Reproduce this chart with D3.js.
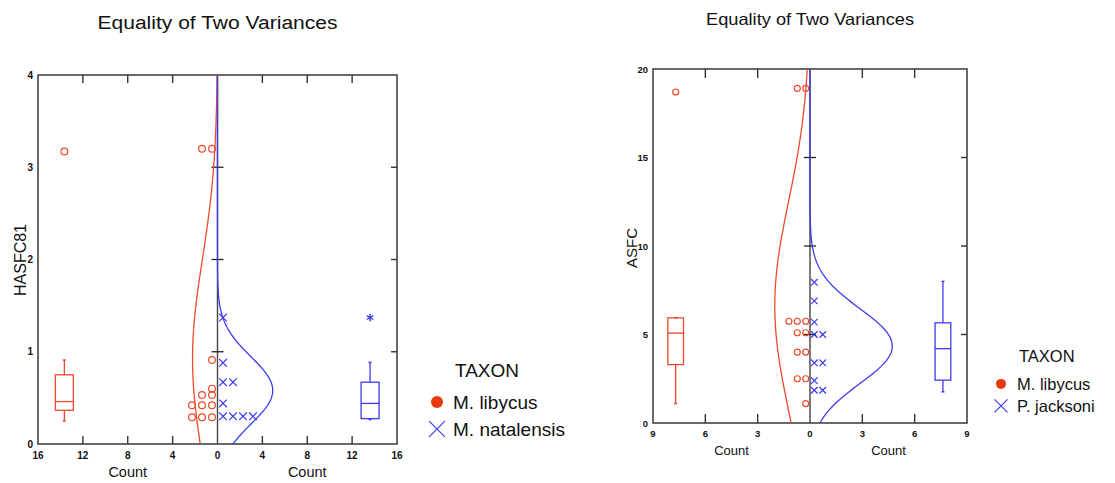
<!DOCTYPE html>
<html>
<head>
<meta charset="utf-8">
<script src="https://cdn.jsdelivr.net/npm/d3@7"></script>
<style>
  body { margin: 0; background: #fff; }
  text { font-family: "Liberation Sans", Arial, sans-serif; fill: #111; }
</style>
</head>
<body>
<div id="chart"></div>
<script>
// ---- data ----
// panel 1: HASFC81
const hasfcTicks = [0, 1, 2, 3, 4];
const hasfcCountTicks = [4, 8, 12, 16];
const hasfcLibycus = [3.20, 3.20, 0.91, 0.60, 0.53, 0.53, 0.42, 0.42, 0.42, 0.29, 0.29, 0.29];
const hasfcNatalensis = [1.37, 0.88, 0.67, 0.67, 0.44, 0.30, 0.30, 0.30, 0.30];
const hasfcLibycusBox = [0.25, 0.365, 0.46, 0.75, 0.91];   // low whisker, q1, median, q3, high whisker
const hasfcLibycusOut = [3.17];
const hasfcNatalensisBox = [0.265, 0.275, 0.44, 0.67, 0.885];
const hasfcNatalensisOut = [1.37];

// panel 2: ASFC
const asfcTicks = [0, 5, 10, 15, 20];
const asfcCountTicks = [3, 6, 9];
const asfcLibycus = [18.9, 18.9, 5.75, 5.75, 5.75, 5.1, 5.1, 4.0, 4.0, 2.5, 2.5, 1.1];
const asfcJacksoni = [7.95, 6.9, 5.7, 5.0, 5.0, 3.4, 3.4, 2.4, 1.85, 1.85];
const asfcLibycusBox = [1.1, 3.3, 5.08, 5.94, 5.94];
const asfcLibycusOut = [18.7];
const asfcJacksoniBox = [1.76, 2.42, 4.2, 5.66, 8.0];
const asfcJacksoniOut = [];

const RED = "#ec4a2a";
const BLUE = "#3b3bef";

const svg = d3.select("#chart").append("svg")
  .attr("width", 1115).attr("height", 483);

// normal density scaled to counts, from the points themselves
function normalCurve(values, bin, yMax) {
  const n = values.length, m = d3.mean(values), sd = d3.deviation(values);
  const k = n * bin / (sd * Math.sqrt(2 * Math.PI));
  return d3.range(0, 201).map(i => {
    const v = yMax * i / 200;
    return [v, k * Math.exp(-0.5 * ((v - m) / sd) ** 2)];
  });
}

function drawPanel(p) {
  const g = svg.append("g");
  const x = d3.scaleLinear().domain([-p.maxCount, p.maxCount]).range([p.left, p.right]);
  const y = d3.scaleLinear().domain([0, p.yMax]).range([p.bottom, p.top]);

  // title
  g.append("text").attr("x", x(0)).attr("y", p.titleY)
    .attr("text-anchor", "middle").style("font-size", p.titleSize + "px")
    .attr("textLength", p.titleLen).attr("lengthAdjust", "spacingAndGlyphs")
    .text("Equality of Two Variances");

  // center axis line
  g.append("line").attr("x1", x(0)).attr("x2", x(0)).attr("y1", y(0)).attr("y2", y(p.yMax))
    .attr("stroke", "#444").attr("stroke-width", 1.4);
  // cross ticks on center line
  p.yTicks.slice(1, -1).forEach(t => {
    g.append("line").attr("x1", x(0) - 6).attr("x2", x(0) + 6).attr("y1", y(t)).attr("y2", y(t))
      .attr("stroke", "#222").attr("stroke-width", 1.3);
  });

  // frame
  g.append("rect").attr("x", p.left).attr("y", p.top)
    .attr("width", p.right - p.left).attr("height", p.bottom - p.top)
    .attr("fill", "none").attr("stroke", "#444").attr("stroke-width", 1.6);

  // count ticks (inward, top and bottom) + labels
  const signed = [];
  p.countTicks.forEach(c => { signed.push(-c, c); });
  signed.forEach(c => {
    if (Math.abs(c) === p.maxCount) return;
    g.append("line").attr("x1", x(c)).attr("x2", x(c)).attr("y1", p.bottom).attr("y2", p.bottom - p.tickLen)
      .attr("stroke", "#333").attr("stroke-width", 1.4);
    g.append("line").attr("x1", x(c)).attr("x2", x(c)).attr("y1", p.top).attr("y2", p.top + p.tickLen)
      .attr("stroke", "#333").attr("stroke-width", 1.4);
  });
  signed.concat([0]).forEach(c => {
    g.append("text").attr("x", x(c)).attr("y", p.bottom + p.tickLabelDy)
      .attr("text-anchor", "middle").style("font-size", p.tickFont + "px").style("font-weight", "bold")
      .text(Math.abs(c));
  });
  // right edge ticks
  p.yTicks.slice(1, -1).forEach(t => {
    g.append("line").attr("x1", p.right).attr("x2", p.right - 6).attr("y1", y(t)).attr("y2", y(t))
      .attr("stroke", "#333").attr("stroke-width", 1.4);
  });
  // y labels
  p.yTicks.forEach(t => {
    g.append("text").attr("x", p.left - 5).attr("y", y(t) + 3.5)
      .attr("text-anchor", "end").style("font-size", p.tickFont + "px").style("font-weight", "bold")
      .text(t);
  });
  // Count labels
  [-p.maxCount / 2, p.maxCount / 2].forEach(c => {
    g.append("text").attr("x", x(c)).attr("y", p.countY)
      .attr("text-anchor", "middle").style("font-size", p.countSize + "px").text("Count");
  });
  // y title
  g.append("text").attr("transform", `translate(${p.yTitleX},${p.yTitleY}) rotate(-90)`)
    .attr("text-anchor", "middle").style("font-size", p.yTitleSize + "px").text(p.yTitle);

  // density curves
  const line = d3.line().x(d => x(d[1])).y(d => y(d[0]));
  g.append("path").datum(normalCurve(p.redVals, p.bin, p.yMax).map(d => [d[0], -d[1]]))
    .attr("d", line).attr("fill", "none").attr("stroke", RED).attr("stroke-width", 1.3);
  g.append("path").datum(normalCurve(p.blueVals, p.bin, p.yMax))
    .attr("d", line).attr("fill", "none").attr("stroke", BLUE).attr("stroke-width", 1.3);

  // dot plots
  const stack = vals => {
    const out = [];
    d3.group(vals, v => v).forEach((arr, v) => arr.forEach((_, i) => out.push({ v, i })));
    return out;
  };
  g.selectAll(null).data(stack(p.redVals)).join("circle")
    .attr("cx", d => x(0) - p.dotStart - d.i * p.dotStep).attr("cy", d => y(d.v))
    .attr("r", p.dotR).attr("fill", "none").attr("stroke", RED).attr("stroke-width", 1.2);
  const times = d3.symbol().type(d3.symbolTimes || d3.symbolCross).size(p.xSize);
  g.selectAll(null).data(stack(p.blueVals)).join("path")
    .attr("transform", d => `translate(${x(0) + p.dotStart + d.i * p.dotStep},${y(d.v)})`)
    .attr("d", times).attr("fill", "none").attr("stroke", BLUE).attr("stroke-width", 1.2);

  // box plots
  function box(stats, outs, center, color, outSymbol) {
    const xl = x(center - p.boxW / 2), xr = x(center + p.boxW / 2), xc = x(center);
    const [lo, q1, med, q3, hi] = stats;
    g.append("line").attr("x1", xc).attr("x2", xc).attr("y1", y(lo)).attr("y2", y(q1))
      .attr("stroke", color).attr("stroke-width", 1.3);
    g.append("line").attr("x1", xc).attr("x2", xc).attr("y1", y(q3)).attr("y2", y(hi))
      .attr("stroke", color).attr("stroke-width", 1.3);
    [lo, hi].forEach(v => g.append("line").attr("x1", xc - 1.5).attr("x2", xc + 1.5).attr("y1", y(v)).attr("y2", y(v))
      .attr("stroke", color).attr("stroke-width", 1.5));
    g.append("rect").attr("x", Math.min(xl, xr)).attr("y", y(q3))
      .attr("width", Math.abs(xr - xl)).attr("height", y(q1) - y(q3))
      .attr("fill", "none").attr("stroke", color).attr("stroke-width", 1.3);
    g.append("line").attr("x1", xl).attr("x2", xr).attr("y1", y(med)).attr("y2", y(med))
      .attr("stroke", color).attr("stroke-width", 1.3);
    outs.forEach(v => {
      if (outSymbol === "circle") {
        g.append("circle").attr("cx", xc).attr("cy", y(v)).attr("r", p.dotR)
          .attr("fill", "none").attr("stroke", color).attr("stroke-width", 1.2);
      } else {
        g.append("path").attr("transform", `translate(${xc},${y(v)})`)
          .attr("d", d3.symbol().type(d3.symbolAsterisk || d3.symbolCross).size(p.xSize)())
          .attr("fill", "none").attr("stroke", color).attr("stroke-width", 1.4);
      }
    });
  }
  box(p.redBox, p.redOut, -p.redBoxC, RED, "circle");
  box(p.blueBox, p.blueOut, p.blueBoxC, BLUE, "star");

  // legend
  const lg = svg.append("g");
  const [y0, y1, y2] = p.legRows;
  lg.append("text").attr("x", p.legX + 18).attr("y", y0).style("font-size", p.legSize + "px").text("TAXON");
  lg.append("circle").attr("cx", p.legX).attr("cy", y1 - p.legSize * 0.37)
    .attr("r", p.legR).attr("fill", "#e8380d");
  lg.append("text").attr("x", p.legX + 16).attr("y", y1)
    .style("font-size", p.legSize + "px").text("M. libycus");
  lg.append("path").attr("transform", `translate(${p.legX},${y2 - p.legSize * 0.37})`)
    .attr("d", d3.symbol().type(d3.symbolTimes || d3.symbolCross).size(p.legR * p.legR * 4.5)())
    .attr("fill", "none").attr("stroke", BLUE).attr("stroke-width", 1.2);
  lg.append("text").attr("x", p.legX + 16).attr("y", y2)
    .style("font-size", p.legSize + "px").text(p.blueName);
}

drawPanel({
  left: 38, right: 397, top: 75, bottom: 444,
  maxCount: 16, yMax: 4, bin: 0.5,
  yTicks: hasfcTicks, countTicks: hasfcCountTicks,
  tickLen: 8, tickFont: 10, tickLabelDy: 15,
  countY: 477, countSize: 14.5,
  titleY: 29, titleSize: 18, titleLen: 240,
  yTitle: "HASFC81", yTitleX: 26, yTitleY: 260, yTitleSize: 16,
  redVals: hasfcLibycus, blueVals: hasfcNatalensis,
  dotStart: 5.5, dotStep: 10, dotR: 3.4, xSize: 40,
  redBox: hasfcLibycusBox, redOut: hasfcLibycusOut, redBoxC: 13.65,
  blueBox: hasfcNatalensisBox, blueOut: hasfcNatalensisOut, blueBoxC: 13.6, boxW: 1.6,
  legX: 437, legRows: [377, 409, 436], legSize: 19, legR: 6, blueName: "M. natalensis"
});

drawPanel({
  left: 653, right: 967, top: 69, bottom: 423,
  maxCount: 9, yMax: 20, bin: 2.5,
  yTicks: asfcTicks, countTicks: asfcCountTicks,
  tickLen: 9, tickFont: 9.5, tickLabelDy: 14,
  countY: 455, countSize: 13,
  titleY: 25, titleSize: 16.5, titleLen: 208,
  yTitle: "ASFC", yTitleX: 637, yTitleY: 248, yTitleSize: 15,
  redVals: asfcLibycus, blueVals: asfcJacksoni,
  dotStart: 4.3, dotStep: 8.4, dotR: 3.0, xSize: 30,
  redBox: asfcLibycusBox, redOut: asfcLibycusOut, redBoxC: 7.7,
  blueBox: asfcJacksoniBox, blueOut: asfcJacksoniOut, blueBoxC: 7.62, boxW: 0.9,
  legX: 1001, legRows: [362, 390, 412], legSize: 16.5, legR: 5, blueName: "P. jacksoni"
});
</script>
</body>
</html>
